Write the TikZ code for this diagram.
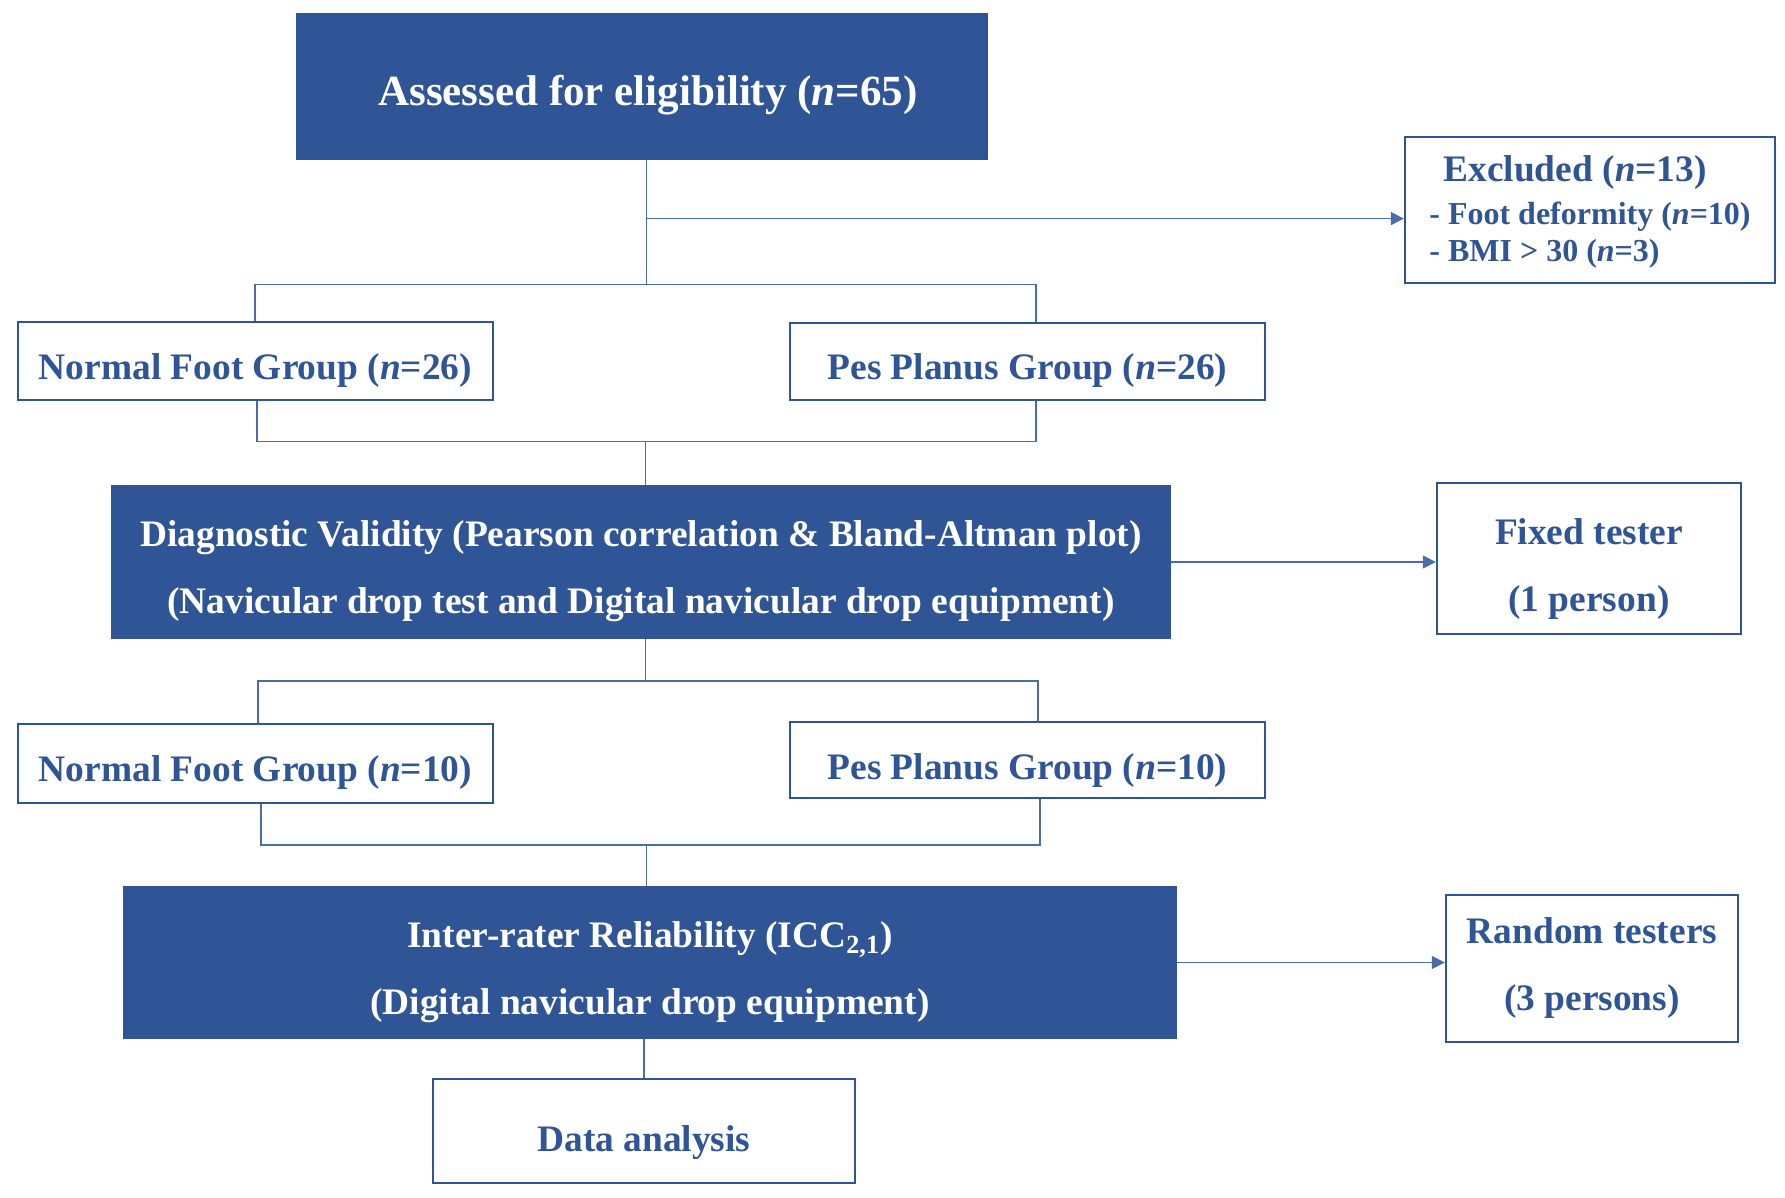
\documentclass[tikz,border=0pt]{standalone}
\usepackage{fontspec}
\setmainfont{Liberation Serif}
\usetikzlibrary{arrows.meta}
\definecolor{dblue}{HTML}{2F5597}
\definecolor{lblue}{HTML}{4A6CA8}
\newcommand{\lowstrut}[1]{\rule{0pt}{#1}}
\begin{document}
\begin{tikzpicture}[x=0.5pt,y=-0.5pt,
  basefont/.style={font=\bfseries\fontsize{18.7}{33.5}\selectfont},
  filled/.style={draw=dblue,fill=dblue,text=white,line width=1pt,inner sep=0pt,align=center,basefont},
  plain/.style={draw=dblue,fill=white,text=dblue,line width=1.2pt,inner sep=0pt,align=center,basefont},
  conn/.style={draw=lblue,line width=0.8pt},
  arr/.style={conn,-{Triangle[length=6.5pt,width=6.5pt]}}
]
\useasboundingbox (0,0) rectangle (1785,1198);

\node[filled,minimum width=345pt,minimum height=72.5pt,font=\bfseries\fontsize{21.5}{26}\selectfont] (top) at (642,86.5) {\hspace{6pt}\lowstrut{24pt}Assessed for eligibility (\textit{n}=65)};

\node[plain,minimum width=185pt,minimum height=73pt,align=left,font=\bfseries\fontsize{16}{18.8}\selectfont] (excl) at (1590,210)
  {{\fontsize{18.7}{22}\selectfont\hspace{7pt}\lowstrut{15pt}Excluded (\textit{n}=13)}\\[2.7pt]- Foot deformity (\textit{n}=10)\\- BMI > 30 (\textit{n}=3)};

\node[plain,minimum width=237.5pt,minimum height=39pt] (nf26) at (255.5,361) {\lowstrut{22pt}Normal Foot Group (\textit{n}=26)};
\node[plain,minimum width=237.5pt,minimum height=38.5pt] (pp26) at (1027.5,361.5) {\lowstrut{22pt}Pes Planus Group (\textit{n}=26)};

\node[filled,minimum width=529pt,minimum height=75.5pt] (diag) at (641,562) {\lowstrut{22pt}Diagnostic Validity (Pearson correlation \& Bland-Altman plot)\\(Navicular drop test and Digital navicular drop equipment)};

\node[plain,minimum width=152pt,minimum height=75.5pt] (fixed) at (1589,558.5) {\lowstrut{23pt}Fixed tester\\(1 person)};

\node[plain,minimum width=237.5pt,minimum height=39.5pt] (nf10) at (255.5,763.5) {\lowstrut{22pt}Normal Foot Group (\textit{n}=10)};
\node[plain,minimum width=237.5pt,minimum height=38pt] (pp10) at (1027.5,760) {\lowstrut{23pt}Pes Planus Group (\textit{n}=10)};

\node[filled,minimum width=526pt,minimum height=75.5pt] (inter) at (650,962.5) {\lowstrut{23pt}Inter-rater Reliability (ICC\textsubscript{2,1})\\(Digital navicular drop equipment)};

\node[plain,minimum width=146pt,minimum height=73.5pt] (random) at (1592,968.5) {Random testers\\(3 persons)};

\node[plain,minimum width=211pt,minimum height=52pt] (data) at (644,1131) {\lowstrut{24.3pt}Data analysis};

% junctions
\coordinate (j1) at (646.5,218.6);
\coordinate (s1) at (646.5,284.6);
\coordinate (s1l) at (255,284.6);
\coordinate (s1r) at (1036,284.6);
\coordinate (m1) at (645.5,441.7);
\coordinate (m1l) at (257,441.7);
\coordinate (m1r) at (1036,441.7);
\coordinate (s2) at (645.5,680.8);
\coordinate (s2l) at (258,680.8);
\coordinate (s2r) at (1038,680.8);
\coordinate (m2) at (646.5,844.7);
\coordinate (m2l) at (261,844.7);
\coordinate (m2r) at (1040,844.7);

\draw[conn] (top.south -| s1) -- (s1);
\draw[arr] (j1) -- (j1 -| excl.west);
\draw[conn] (s1l |- nf26.north) -- (s1l) -- (s1r) -- (s1r |- pp26.north);

\draw[conn] (m1l |- nf26.south) -- (m1l) -- (m1r) -- (m1r |- pp26.south);
\draw[conn] (m1) -- (m1 |- diag.north);

\draw[arr] (diag.east) -- (diag.east -| fixed.west);

\draw[conn] (diag.south -| s2) -- (s2);
\draw[conn] (s2l |- nf10.north) -- (s2l) -- (s2r) -- (s2r |- pp10.north);

\draw[conn] (m2l |- nf10.south) -- (m2l) -- (m2r) -- (m2r |- pp10.south);
\draw[conn] (m2) -- (m2 |- inter.north);

\draw[arr] (inter.east) -- (inter.east -| random.west);

\draw[conn] (data.north |- inter.south) -- (data.north);
\end{tikzpicture}
\end{document}
